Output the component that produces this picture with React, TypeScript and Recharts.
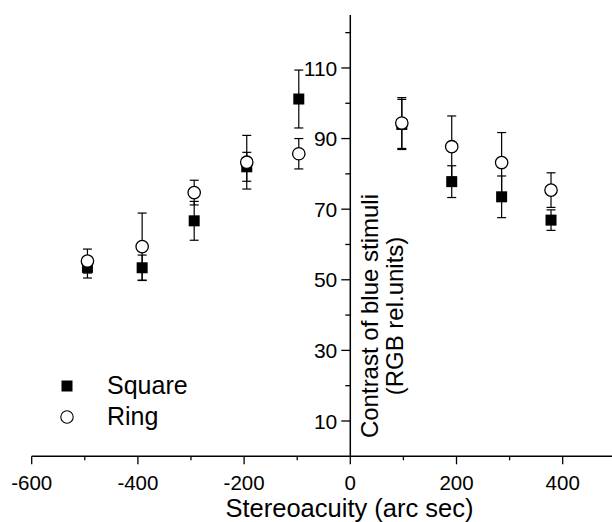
import React from "react";
import {
  ErrorBar,
  Legend,
  ReferenceLine,
  Scatter,
  ScatterChart,
  XAxis,
  YAxis,
} from "recharts";

// stereoacuity positions (arc sec), shared by both stimuli
const stereoacuity = [-495, -392, -294, -195, -97, 97, 191, 285, 378];

const squareContrast = [53.5, 53.4, 66.7, 82.0, 101.2, 94.0, 77.8, 73.5, 66.9];
const squareError = [3.0, 3.6, 5.5, 4.1, 8.2, 7.1, 4.5, 5.9, 2.9];

const ringContrast = [55.3, 59.4, 74.7, 83.3, 85.7, 94.4, 87.7, 83.2, 75.4];
const ringError = [3.4, 9.5, 3.5, 7.6, 4.3, 7.2, 8.7, 8.5, 4.9];

const seriesOrder = ["Square", "Ring"];

const xTicks = [-600, -500, -400, -300, -200, -100, 0, 100, 200, 300, 400];
const xTickLabels = [-600, -400, -200, 0, 200, 400];
const yTicks = [10, 20, 30, 40, 50, 60, 70, 80, 90, 100, 110, 120];
const yTickLabels = [10, 30, 50, 70, 90, 110];

const FONT = '"Liberation Sans", Arial, sans-serif';

// plot geometry (page pixels)
const PLOT_LEFT = 31.7;
const PLOT_RIGHT = 615.8;
const PLOT_TOP = 15;
const PLOT_BOTTOM = 456.3;
const X_MIN = -600;
const X_MAX = 500;
const CHART_W = 620;
const CHART_H = 522;
const Y_AXIS_W = 10;
// where x = 0 sits, the y axis is drawn there
const Y_AXIS_X = PLOT_LEFT + ((0 - X_MIN) / (X_MAX - X_MIN)) * (PLOT_RIGHT - PLOT_LEFT);

const squareData = stereoacuity.map((x, i) => ({
  x,
  y: squareContrast[i],
  err: squareError[i],
}));
const ringData = stereoacuity.map((x, i) => ({
  x,
  y: ringContrast[i],
  err: ringError[i],
}));

const SquareMark = (props: any) => {
  const { cx, cy } = props;
  if (cx == null || cy == null) return null;
  return <rect x={cx - 5.5} y={cy - 5.5} width={11} height={11} fill="#000" />;
};

const RingMark = (props: any) => {
  const { cx, cy } = props;
  if (cx == null || cy == null) return null;
  return <circle cx={cx} cy={cy} r={6.2} fill="#fff" stroke="#000" strokeWidth={1.3} />;
};

const XTick = (props: any) => {
  const { x, payload } = props;
  const major = xTickLabels.includes(payload.value);
  return (
    <g>
      <line
        x1={x}
        x2={x}
        y1={PLOT_BOTTOM}
        y2={PLOT_BOTTOM + (major ? 8 : 4)}
        stroke="#000"
        strokeWidth={1.3}
      />
      {major && (
        <text x={x} y={489.5} textAnchor="middle" fontSize={20.5} fontFamily={FONT} fill="#000">
          {payload.value}
        </text>
      )}
    </g>
  );
};

const YTick = (props: any) => {
  const { y, payload } = props;
  const major = yTickLabels.includes(payload.value);
  return (
    <g>
      <line
        x1={Y_AXIS_X - (major ? 9 : 5)}
        x2={Y_AXIS_X}
        y1={y}
        y2={y}
        stroke="#000"
        strokeWidth={1.3}
      />
      {major && (
        <text
          x={Y_AXIS_X - 13}
          y={y}
          dy="0.36em"
          textAnchor="end"
          fontSize={21}
          fontFamily={FONT}
          fill="#000"
        >
          {payload.value}
        </text>
      )}
    </g>
  );
};

const YLabel = () => (
  <g fontFamily={FONT} fontSize={24} fill="#000">
    <text x={377.5} y={316} textAnchor="middle" transform="rotate(-90 377.5 316)">
      Contrast of blue stimuli
    </text>
    <text x={403.3} y={316} textAnchor="middle" transform="rotate(-90 403.3 316)">
      (RGB rel.units)
    </text>
  </g>
);

const XLabel = () => (
  <text x={349.5} y={517} textAnchor="middle" fontSize={25.5} fontFamily={FONT} fill="#000">
    Stereoacuity (arc sec)
  </text>
);

const LegendBox = (props: any) => {
  const items = [...(props.payload || [])].sort(
    (a: any, b: any) => seriesOrder.indexOf(a.value) - seriesOrder.indexOf(b.value)
  );
  return (
    <div style={{ fontFamily: FONT, fontSize: 25, color: "#000" }}>
      {items.map((item: any) => (
        <div
          key={item.value}
          style={{ position: "relative", height: 31, lineHeight: "31px", whiteSpace: "nowrap" }}
        >
          <svg width={16} height={16} style={{ position: "absolute", left: 59, top: 7.5 }}>
            {item.value === "Square" ? (
              <rect x={2.5} y={2.5} width={11} height={11} fill="#000" />
            ) : (
              <circle cx={8} cy={8} r={6.2} fill="#fff" stroke="#000" strokeWidth={1.1} />
            )}
          </svg>
          <span style={{ position: "absolute", left: 107, top: 0 }}>{item.value}</span>
        </div>
      ))}
    </div>
  );
};

export default function App() {
  return (
    <div
      style={{
        position: "absolute",
        left: 0,
        top: 0,
        width: 612,
        height: 522,
        overflow: "hidden",
        background: "#fff",
      }}
    >
      <ScatterChart
        width={CHART_W}
        height={CHART_H}
        margin={{
          top: PLOT_TOP,
          right: CHART_W - PLOT_RIGHT,
          bottom: CHART_H - PLOT_BOTTOM - 30,
          left: PLOT_LEFT - Y_AXIS_W,
        }}
      >
        <XAxis
          type="number"
          dataKey="x"
          domain={[X_MIN, X_MAX]}
          ticks={xTicks}
          interval={0}
          height={30}
          allowDataOverflow
          axisLine={{ stroke: "#000", strokeWidth: 1.5 }}
          tickLine={false}
          tick={<XTick />}
          label={{ content: () => <XLabel /> }}
        />
        <YAxis
          type="number"
          dataKey="y"
          domain={[0, 125]}
          ticks={yTicks}
          interval={0}
          width={Y_AXIS_W}
          allowDataOverflow
          axisLine={false}
          tickLine={false}
          tick={<YTick />}
          label={{ content: () => <YLabel /> }}
        />
        <ReferenceLine x={0} stroke="#000" strokeWidth={1.5} />
        <Legend
          layout="vertical"
          align="center"
          verticalAlign="middle"
          content={<LegendBox />}
          wrapperStyle={{ position: "absolute", left: 0, top: 370, width: 220 }}
        />
        <Scatter
          name="Square"
          data={squareData}
          shape={<SquareMark />}
          isAnimationActive={false}
          legendType="square"
        >
          <ErrorBar dataKey="err" direction="y" width={4.5} stroke="#000" strokeWidth={1.2} />
        </Scatter>
        <Scatter
          name="Ring"
          data={ringData}
          shape={<RingMark />}
          isAnimationActive={false}
          legendType="circle"
        >
          <ErrorBar dataKey="err" direction="y" width={4.5} stroke="#000" strokeWidth={1.2} />
        </Scatter>
      </ScatterChart>
    </div>
  );
}
